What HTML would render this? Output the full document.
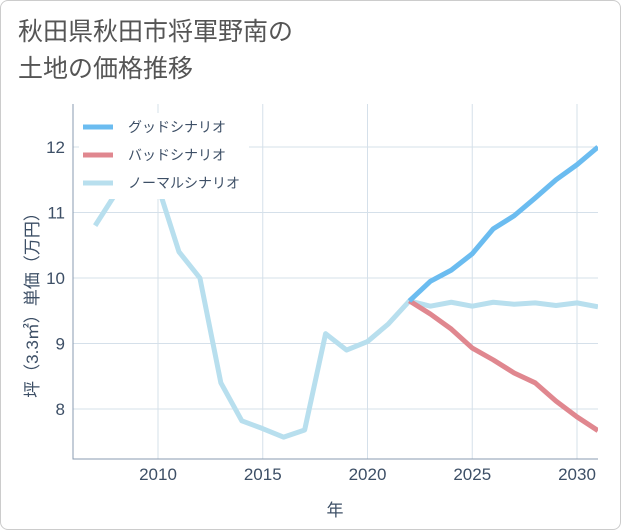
<!DOCTYPE html>
<html><head><meta charset="utf-8"><style>
body{margin:0;background:#fff;}
#wrap{position:relative;width:619px;height:528px;border:1px solid #ccc;border-radius:8px;overflow:hidden;background:#fff;font-family:"Liberation Sans","Noto Sans CJK JP",sans-serif;}
#title{position:absolute;left:17px;top:13px;font-size:25px;line-height:37px;color:#555;}
svg{position:absolute;left:0;top:0;}
</style></head><body>
<div id="wrap">
<div id="title">秋田県秋田市将軍野南の<br>土地の価格推移</div>
<svg id="chart" width="621" height="530"></svg>
</div>
<script>
const years=[2007,2008,2009,2010,2011,2012,2013,2014,2015,2016,2017,2018,2019,2020,2021,2022,2023,2024,2025,2026,2027,2028,2029,2030,2031];
const normal=[10.8,11.3,11.75,11.4,10.4,10.0,8.4,7.82,7.7,7.57,7.68,9.15,8.9,9.03,9.3,9.65,9.57,9.63,9.57,9.63,9.6,9.62,9.58,9.62,9.56];
const goodYears=[2022,2023,2024,2025,2026,2027,2028,2029,2030,2031];
const good=[9.65,9.95,10.12,10.37,10.75,10.95,11.22,11.5,11.73,12.0];
const bad=[9.65,9.45,9.22,8.93,8.75,8.55,8.4,8.12,7.88,7.67];
const xTicks=[2010,2015,2020,2025,2030];
const yTicks=[8,9,10,11,12];
const legendLabels=["グッドシナリオ","バッドシナリオ","ノーマルシナリオ"];
const colors=["#6bbcf0","#e0878f","#b8dfee"];
const L=72,R=597,T=103,B=458;
const X=y=>157+(y-2010)*20.95;
const Y=v=>146+(12-v)*65.5;
const svg=document.getElementById('chart');
const NS='http://www.w3.org/2000/svg';
function mk(t,a){const e=document.createElementNS(NS,t);for(const k in a)e.setAttribute(k,a[k]);svg.appendChild(e);return e;}
xTicks.forEach(t=>{const l=mk('line',{x1:X(t),x2:X(t),y1:T,y2:B,stroke:'#d5e0ea','stroke-width':1});


const tx=mk('text',{x:X(t),y:479,'text-anchor':'middle','font-size':17,fill:'#3d4f66'});tx.textContent=t;

});
yTicks.forEach(t=>{const l=mk('line',{x1:L,x2:R,y1:Y(t),y2:Y(t),stroke:'#d5e0ea','stroke-width':1});


const tx=mk('text',{x:64,y:Y(t)+6,'text-anchor':'end','font-size':17,fill:'#3d4f66'});tx.textContent=t;

});
const ax=mk('path',{d:`M${L} ${T}V${B}H${R}`,fill:'none',stroke:'#8a9bb0','stroke-width':1});


function line(xs,vs,c,name){const p=mk('polyline',{points:xs.map((y,i)=>X(y)+','+Y(vs[i])).join(' '),fill:'none',stroke:c,'stroke-width':5,'stroke-linejoin':'round'});

}
const cp=mk('clipPath',{id:'cp'});const r=document.createElementNS(NS,'rect');r.setAttribute('x',L);r.setAttribute('y',T);r.setAttribute('width',R-L);r.setAttribute('height',B-T);cp.appendChild(r);
line(years,normal,colors[2],'normal-series');
line(goodYears,bad,colors[1],'bad-series');
line(goodYears,good,colors[0],'good-series');
svg.querySelectorAll('polyline').forEach(p=>p.setAttribute('clip-path','url(#cp)'));
const lb=mk('rect',{x:78,y:112,width:170,height:86,fill:'#fff'});


legendLabels.forEach((s,i)=>{const y=126+i*28;
const l=mk('line',{x1:82,x2:112,y1:y,y2:y,stroke:colors[i],'stroke-width':5});


const t=mk('text',{x:127,y:y+5,'font-size':14,fill:'#3d4f66'});t.textContent=s;

});
const xt=mk('text',{x:334,y:515,'text-anchor':'middle','font-size':17,fill:'#3d4f66'});xt.textContent='年';


const yt=mk('text',{x:0,y:0,'text-anchor':'middle','font-size':17,fill:'#3d4f66',transform:'translate(37,300) rotate(-90)'});yt.textContent='坪（3.3㎡）単価（万円）';


</script>
</body></html>
